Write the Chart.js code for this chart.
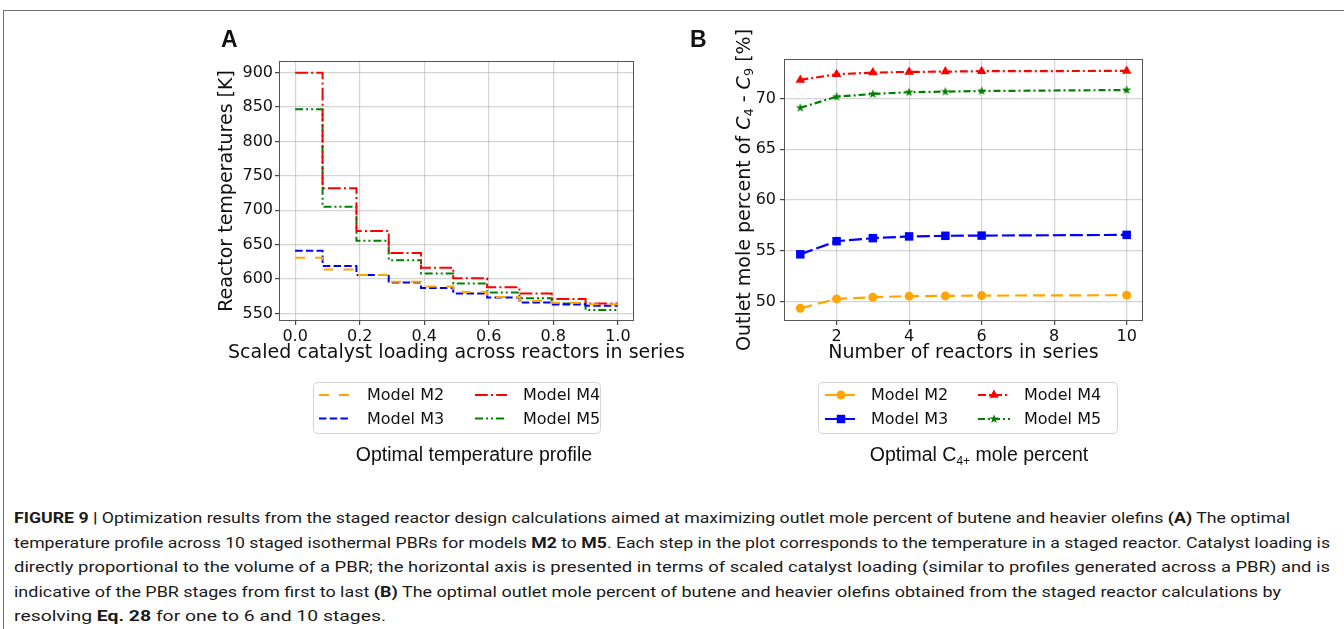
<!DOCTYPE html>
<html>
<head>
<meta charset="utf-8">
<script src="https://cdn.jsdelivr.net/npm/chart.js@4.4.0/dist/chart.umd.min.js"></script>
<style>
  html, body { margin: 0; padding: 0; background: #fff; }
  body { width: 1344px; height: 629px; position: relative; overflow: hidden; }
  .frame { position: absolute; left: 3px; top: 10px; width: 1400px; height: 700px;
           border-top: 1.5px solid #707070; border-left: 1.5px solid #707070; }
  canvas { position: absolute; top: 0; }
  #chartA { left: 200px; }
  #chartB { left: 680px; }
  .letter { position: absolute; top: 28px; font: bold 23px "Liberation Sans", Arial, sans-serif; line-height: 23px; color: #111; }
  .sub { position: absolute; top: 445px; font: 19.5px "Liberation Sans", Arial, sans-serif; line-height: 19.5px;
         transform: translateX(-50%); white-space: nowrap; color: #111; }
  .sub sub { font-size: 12px; vertical-align: -4px; line-height: 0; }
  .cap { position: absolute; left: 14px; font: 15px Roboto, "Liberation Sans", sans-serif; line-height: 15px;
         white-space: nowrap; color: #1a1a1a; }
  .cap span { display: inline-block; transform-origin: 0 50%; }
</style>
</head>
<body>
<div class="frame"></div>
<canvas id="chartB" width="470" height="480"></canvas>
<canvas id="chartA" width="500" height="480"></canvas>
<div class="letter" style="left:221px">A</div>
<div class="letter" style="left:690px">B</div>
<div class="sub" style="left:474px">Optimal temperature profile</div>
<div class="sub" style="left:979px">Optimal C<sub>4+</sub> mole percent</div>

<div class="cap" style="top:511px"><span data-w="1276"><b>FIGURE 9 |</b> Optimization results from the staged reactor design calculations aimed at maximizing outlet mole percent of butene and heavier olefins <b>(A)</b> The optimal</span></div>
<div class="cap" style="top:535.6px"><span data-w="1316">temperature profile across 10 staged isothermal PBRs for models <b>M2</b> to <b>M5</b>. Each step in the plot corresponds to the temperature in a staged reactor. Catalyst loading is</span></div>
<div class="cap" style="top:560.2px"><span data-w="1316">directly proportional to the volume of a PBR; the horizontal axis is presented in terms of scaled catalyst loading (similar to profiles generated across a PBR) and is</span></div>
<div class="cap" style="top:584.8px"><span data-w="1267">indicative of the PBR stages from first to last <b>(B)</b> The optimal outlet mole percent of butene and heavier olefins obtained from the staged reactor calculations by</span></div>
<div class="cap" style="top:609.4px"><span data-w="372">resolving <b>Eq. 28</b> for one to 6 and 10 stages.</span></div>

<script>
// panel A: stage boundaries (scaled catalyst loading) and temperature of each stage [K]
const stageEdges = [0, 0.085, 0.19, 0.29, 0.39, 0.49, 0.595, 0.695, 0.795, 0.9, 1.0];
const tempM2 = [631, 614, 606, 596, 589, 581, 574, 568, 565.5, 563.5];
const tempM3 = [641, 619, 606, 595, 587, 579, 573, 566, 563, 561];
const tempM4 = [900, 732, 670, 638, 616.5, 601, 588, 579, 571, 564.5];
const tempM5 = [847, 705, 655.5, 627.5, 608, 593.5, 580.5, 572, 564.5, 555];

// panel B: number of reactors and outlet mole percent of C4-C9 [%]
const reactorCounts = [1, 2, 3, 4, 5, 6, 10];
const moleM2 = [49.35, 50.27, 50.44, 50.54, 50.57, 50.6, 50.64];
const moleM3 = [54.66, 55.95, 56.25, 56.42, 56.48, 56.5, 56.57];
const moleM4 = [71.81, 72.37, 72.53, 72.6, 72.63, 72.67, 72.7];
const moleM5 = [69.07, 70.16, 70.43, 70.6, 70.66, 70.72, 70.82];

const modelNames = ["Model M2", "Model M3", "Model M4", "Model M5"];
const tempTicks = [550, 600, 650, 700, 750, 800, 850, 900];
const loadingTicks = [0, 0.2, 0.4, 0.6, 0.8, 1.0];
const moleTicks = [50, 55, 60, 65, 70];
const reactorTicks = [2, 4, 6, 8, 10];

const ORANGE = "#FFA500", BLUE = "#0000FF", RED = "#FF0000", GREEN = "#008000";
const GRID = "rgba(176,176,176,0.55)";
const FONT = '"DejaVu Sans", sans-serif';

Chart.defaults.font.family = FONT;
Chart.defaults.color = "#111";

// each stage is a flat segment from its left edge to its right edge
function stepPoints(temps) {
    const pts = [];
    temps.forEach((t, i) => {
        pts.push({ x: stageEdges[i], y: t });
        pts.push({ x: stageEdges[i + 1], y: t });
    });
    return pts;
}

function makeStar(color, r) {
    const c = document.createElement("canvas");
    const s = Math.ceil(r * 2 + 2);
    c.width = s; c.height = s;
    const g = c.getContext("2d");
    g.fillStyle = color;
    g.beginPath();
    for (let k = 0; k < 10; k++) {
        const rr = k % 2 === 0 ? r : r * 0.4;
        const a = -Math.PI / 2 + k * Math.PI / 5;
        g.lineTo(s / 2 + rr * Math.cos(a), s / 2 + rr * Math.sin(a));
    }
    g.closePath();
    g.fill();
    return c;
}

function drawMarker(ctx, ds, x, y) {
    const style = ds.pointStyle, r = ds.pointRadius;
    if (!style || !r) return;
    ctx.fillStyle = ds.borderColor;
    ctx.beginPath();
    if (style instanceof HTMLCanvasElement) {
        ctx.drawImage(style, x - style.width / 2, y - style.height / 2);
        return;
    } else if (style === "circle") {
        ctx.arc(x, y, r, 0, Math.PI * 2);
    } else if (style === "rect") {
        const h = r * Math.SQRT1_2;
        ctx.rect(x - h, y - h, 2 * h, 2 * h);
    } else if (style === "triangle") {
        for (let k = 0; k < 3; k++) {
            const a = k * 2 * Math.PI / 3;
            ctx.lineTo(x + Math.sin(a) * r, y - Math.cos(a) * r);
        }
        ctx.closePath();
    }
    ctx.fill();
}

// draws a run of text pieces (italic / subscript) centred on 0,0
function drawRich(ctx, parts) {
    const fontOf = p => (p.italic ? "italic " : "") + (p.sub ? "13px " : "19px ") + FONT;
    let total = 0;
    parts.forEach(p => { ctx.font = fontOf(p); p.w = ctx.measureText(p.text).width; total += p.w; });
    let x = -total / 2;
    ctx.fillStyle = "#111";
    ctx.textBaseline = "middle";
    ctx.textAlign = "left";
    parts.forEach(p => {
        ctx.font = fontOf(p);
        ctx.fillText(p.text, x, p.sub ? 5 : 0);
        x += p.w;
    });
}

// axes frame + matplotlib-like legend box + axis titles
const decor = {
    id: "decor",
    afterDatasetsDraw(chart, args, opts) {
        const { ctx, chartArea: ca } = chart;
        ctx.save();
        ctx.strokeStyle = "#555";
        ctx.lineWidth = 1;
        ctx.strokeRect(ca.left + 0.5, ca.top + 0.5, ca.right - ca.left - 1, ca.bottom - ca.top - 1);
        ctx.restore();
    },
    afterDraw(chart, args, opts) {
        const { ctx, chartArea: ca } = chart;
        ctx.save();
        const left = (ca.left + ca.right) / 2 - opts.width / 2 + (opts.shift || 0);
        ctx.beginPath();
        ctx.roundRect(left + 0.5, opts.top + 0.5, opts.width, opts.height, 4);
        ctx.fillStyle = "rgba(255,255,255,0.8)";
        ctx.fill();
        ctx.strokeStyle = "#d6d6d6";
        ctx.lineWidth = 1;
        ctx.stroke();
        chart.data.datasets.forEach((ds, i) => {
            const col = Math.floor(i / 2), row = i % 2;
            const x0 = left + opts.lineX + col * opts.colGap;
            const y = opts.top + opts.rows[row];
            ctx.strokeStyle = ds.borderColor;
            ctx.lineWidth = ds.borderWidth;
            ctx.setLineDash(ds.borderDash || []);
            ctx.beginPath();
            ctx.moveTo(x0, y);
            ctx.lineTo(x0 + 32, y);
            ctx.stroke();
            ctx.setLineDash([]);
            drawMarker(ctx, ds, x0 + 16, y);
            ctx.fillStyle = "#111";
            ctx.font = "16px " + FONT;
            ctx.textBaseline = "middle";
            ctx.fillText(ds.label, x0 + opts.textGap, y + 1);
        });
        ctx.restore();

        // x title (no width limit, like matplotlib)
        ctx.save();
        ctx.translate((ca.left + ca.right) / 2, ca.bottom + opts.xTitleOffset);
        drawRich(ctx, opts.xTitle);
        ctx.restore();

        // rotated y title
        ctx.save();
        ctx.translate(ca.left - opts.yTitleOffset, (ca.top + ca.bottom) / 2);
        ctx.rotate(-Math.PI / 2);
        drawRich(ctx, opts.yTitle);
        ctx.restore();
    }
};

function fixedTicks(list) {
    return scale => { scale.ticks = list.map(v => ({ value: v })); };
}

function baseScale(ticks, fmt) {
    return {
        type: "linear",
        afterBuildTicks: fixedTicks(ticks),
        grid: { color: GRID, lineWidth: 1.2, tickLength: 4, tickColor: "#444", drawTicks: true },
        border: { display: false },
        ticks: { font: { size: 16 }, color: "#111", padding: 2, callback: fmt }
    };
}

// ---- Panel A ----
const dsA = [
    { label: modelNames[0], data: stepPoints(tempM2), borderColor: ORANGE, borderDash: [10, 10] },
    { label: modelNames[1], data: stepPoints(tempM3), borderColor: BLUE, borderDash: [7.5, 3.2] },
    { label: modelNames[2], data: stepPoints(tempM4), borderColor: RED, borderDash: [12.8, 3.2, 2, 3.2] },
    { label: modelNames[3], data: stepPoints(tempM5), borderColor: GREEN, borderDash: [8, 3, 2, 3, 2, 3] }
].map(d => Object.assign(d, { borderWidth: 2, pointRadius: 0, tension: 0, fill: false }));

const xA = baseScale(loadingTicks, v => v.toFixed(1));
Object.assign(xA, { min: -0.05, max: 1.05, afterFit: s => { s.height = 50; } });
const yA = baseScale(tempTicks, v => String(v));
Object.assign(yA, { min: 539, max: 917, afterFit: s => { s.width = 79; } });

new Chart(document.getElementById("chartA"), {
    type: "line",
    data: { datasets: dsA },
    options: {
        responsive: false,
        animation: false,
        layout: { padding: { left: 0, right: 66, top: 61, bottom: 109 } },
        scales: { x: xA, y: yA },
        plugins: {
            legend: { display: false },
            tooltip: { enabled: false },
            decor: {
                width: 287, height: 51, top: 382, lineX: 6, textGap: 48, colGap: 156, rows: [13, 36.5],
                xTitleOffset: 32, yTitleOffset: 52,
                xTitle: [{ text: "Scaled catalyst loading across reactors in series" }],
                yTitle: [{ text: "Reactor temperatures [K]" }]
            }
        }
    },
    plugins: [decor]
});

// ---- Panel B ----
const toPts = vals => vals.map((v, i) => ({ x: reactorCounts[i], y: v }));
const dsB = [
    { label: modelNames[0], data: toPts(moleM2), borderColor: ORANGE, backgroundColor: ORANGE,
      borderDash: [12, 6], pointStyle: "circle", pointRadius: 4.5 },
    { label: modelNames[1], data: toPts(moleM3), borderColor: BLUE, backgroundColor: BLUE,
      borderDash: [13, 4], pointStyle: "rect", pointRadius: 6 },
    { label: modelNames[2], data: toPts(moleM4), borderColor: RED, backgroundColor: RED,
      borderDash: [8, 3, 2, 3], pointStyle: "triangle", pointRadius: 5.5 },
    { label: modelNames[3], data: toPts(moleM5), borderColor: GREEN, backgroundColor: GREEN,
      borderDash: [7, 3, 2, 3], pointStyle: makeStar(GREEN, 4.8), pointRadius: 5 }
].map(d => Object.assign(d, { borderWidth: 2.2, pointBorderWidth: 0, pointHoverRadius: 0, tension: 0, fill: false }));

const xB = baseScale(reactorTicks, v => String(v));
Object.assign(xB, { min: 0.55, max: 10.45, afterFit: s => { s.height = 50; } });
const yB = baseScale(moleTicks, v => String(v));
Object.assign(yB, { min: 48.1, max: 73.87, afterFit: s => { s.width = 104; } });
yB.ticks.padding = 4;

new Chart(document.getElementById("chartB"), {
    type: "line",
    data: { datasets: dsB },
    options: {
        responsive: false,
        animation: false,
        layout: { padding: { left: 0, right: 7, top: 59, bottom: 109 } },
        scales: { x: xB, y: yB },
        plugins: {
            legend: { display: false },
            tooltip: { enabled: false },
            decor: {
                width: 299, height: 51, top: 382, shift: 4, lineX: 7, textGap: 46, colGap: 153, rows: [13, 37],
                xTitleOffset: 32, yTitleOffset: 39,
                xTitle: [{ text: "Number of reactors in series" }],
                yTitle: [
                    { text: "Outlet mole percent of " },
                    { text: "C", italic: true }, { text: "4", sub: true },
                    { text: " - " },
                    { text: "C", italic: true }, { text: "9", sub: true },
                    { text: " [%]" }
                ]
            }
        }
    },
    plugins: [decor]
});

// stretch each caption line to its width in the printed figure
document.querySelectorAll(".cap span").forEach(sp => {
    const w = sp.getBoundingClientRect().width;
    sp.style.transform = "scaleX(" + (Number(sp.dataset.w) / w) + ")";
});
</script>
</body>
</html>
